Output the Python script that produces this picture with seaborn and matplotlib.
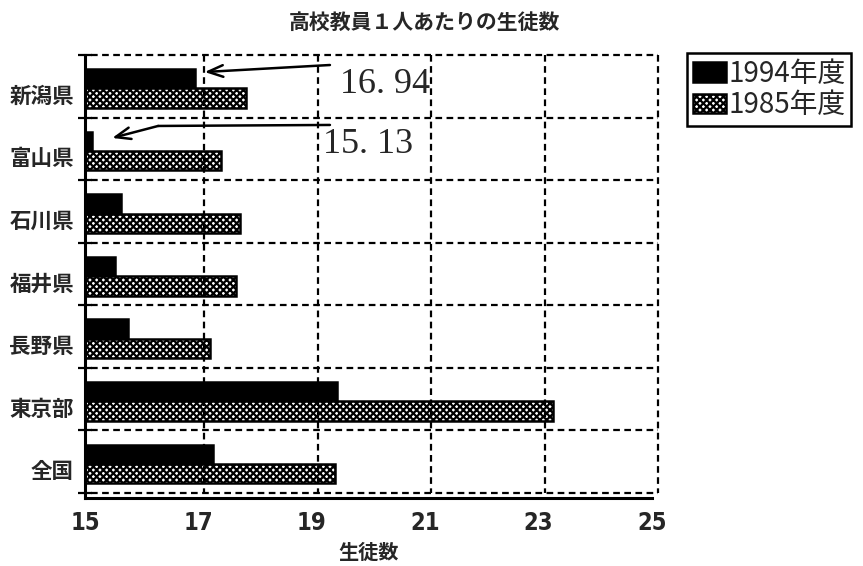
import numpy as np
import pandas as pd
import seaborn as sns
import matplotlib
matplotlib.use("Agg")
import matplotlib.pyplot as plt
from matplotlib import font_manager
from matplotlib.transforms import ScaledTranslation

# ---- data -------------------------------------------------------------
prefectures = ["新潟県", "富山県", "石川県", "福井県", "長野県", "東京部", "全国"]
ratio_1994 = [16.94, 15.13, 15.63, 15.53, 15.76, 19.44, 17.26]
ratio_1985 = [17.84, 17.40, 17.73, 17.66, 17.21, 23.25, 19.41]
years = ["1994年度", "1985年度"]
x_ticks = [15, 17, 19, 21, 23, 25]

df = pd.DataFrame({
    "pref": prefectures * 2,
    "year": [years[0]] * len(prefectures) + [years[1]] * len(prefectures),
    "students": ratio_1994 + ratio_1985,
})

sns.set_theme(style="white")
plt.rcParams["font.family"] = ["Noto Sans CJK JP", "DejaVu Sans"]
plt.rcParams["hatch.linewidth"] = 1.6
plt.rcParams["hatch.color"] = "black"

JP = ["Noto Sans CJK JP", "DejaVu Sans"]
SERIF = ["Liberation Serif", "DejaVu Serif"]

# narrow face for the axis numbers when one is available
installed = {f.name for f in font_manager.fontManager.ttflist}
narrow = [f for f in ["Liberation Sans Narrow", "DejaVu Sans Condensed"]
          if f in installed]
NUM = narrow + ["DejaVu Sans"]
num_stretch = "condensed"

fig = plt.figure(figsize=(8.63, 5.66), dpi=100)
ax = fig.add_axes([85 / 863, 68 / 566, 567 / 863, 443 / 566])

sns.barplot(
    data=df, x="students", y="pref", hue="year", hue_order=years,
    orient="h", width=0.62, palette=["black", "white"],
    edgecolor="black", linewidth=1.8, ax=ax, saturation=1,
)

# pattern fill for the older series
for bar in ax.containers[1]:
    bar.set_hatch("xxxxx")

ax.set_xlim(15, 25)
ax.set_ylim(6.545, -0.535)

n = len(prefectures)
bounds = np.arange(n + 1) - 0.535

# dashed back wall, shifted a few pixels right
shift = ax.transData + ScaledTranslation(6 / 100, 0, fig.dpi_scale_trans)
dash = dict(color="black", lw=1.6, dashes=(3, 2), clip_on=False)
for xv in x_ticks[1:]:
    ax.plot([xv, xv], [bounds[0], bounds[-1]], transform=shift, **dash)
for yv in bounds:
    ax.plot([x_ticks[0], x_ticks[-1]], [yv, yv], transform=shift, **dash)

# spines
for s in ["top", "right"]:
    ax.spines[s].set_visible(False)
for s in ["left", "bottom"]:
    ax.spines[s].set_color("black")
    ax.spines[s].set_linewidth(2.2)

ax.set_xticks(x_ticks)
ax.set_xticklabels([str(t) for t in x_ticks], family=NUM, fontsize=17,
                   fontweight="bold", fontstretch=num_stretch)
ax.tick_params(axis="x", direction="inout", length=9, width=1.6,
               color="black", pad=5)

ax.set_yticks(np.arange(n) + 0.095)
ax.set_yticklabels(prefectures, family=JP, fontsize=15.5, fontweight="bold")
ax.set_yticks(bounds, minor=True)
ax.tick_params(axis="y", which="major", length=0, pad=8)
ax.tick_params(axis="y", which="minor", direction="inout", length=10,
               width=1.6, color="black", left=True)

ax.set_ylabel("")
ax.set_xlabel("生徒数", family=JP, fontsize=14.5, fontweight="bold",
              labelpad=5)

# value callouts for the two highlighted prefectures
ax.text(20.29, -0.056, f"{ratio_1994[0]:.2f}".replace(".", ". "),
        family=SERIF, fontsize=26, ha="center", va="center")
ax.text(19.99, 0.903, f"{ratio_1994[1]:.2f}".replace(".", ". "),
        family=SERIF, fontsize=26, ha="center", va="center")

arrow = dict(arrowstyle="->,head_length=0.9,head_width=0.35", lw=1.8,
             color="black", shrinkA=0, shrinkB=0)
ax.annotate("", xy=(ratio_1994[0] + 0.17, -0.263), xytext=(19.32, -0.375),
            arrowprops=arrow)
ax.plot([19.32, 16.29], [0.583, 0.599], color="black", lw=1.8)
ax.annotate("", xy=(ratio_1994[1] + 0.35, 0.791), xytext=(16.29, 0.599),
            arrowprops=arrow)

fig.text(424 / 863, 1 - 22 / 566, "高校教員１人あたりの生徒数", family=JP,
         fontsize=15, fontweight="bold", ha="center", va="center")

handles, labels = ax.get_legend_handles_labels()
leg = ax.legend(handles, labels, loc="upper left",
                bbox_to_anchor=(687 / 863, 1 - 53 / 566),
                bbox_transform=fig.transFigure, prop=dict(family=JP, size=20),
                frameon=True, fancybox=False, edgecolor="black", framealpha=1,
                handlelength=1.2, handleheight=0.7, handletextpad=0.1,
                borderpad=0.2, labelspacing=0.05, borderaxespad=0)
leg.get_frame().set_linewidth(1.8)
leg_patches = leg.get_patches()
leg_patches[1].set_hatch("xxxxx")
for p in leg_patches:
    p.set_edgecolor("black")

fig.savefig("out.png", dpi=100)
